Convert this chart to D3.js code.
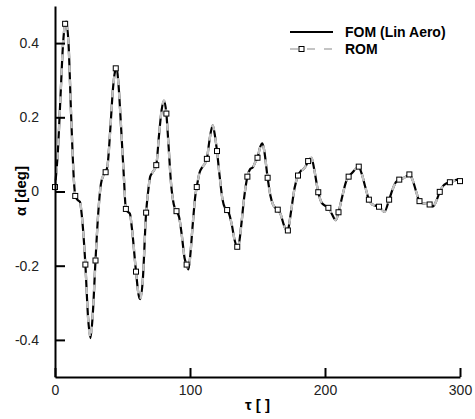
<!DOCTYPE html>
<html>
<head>
<meta charset="utf-8">
<script src="https://cdn.jsdelivr.net/npm/d3@7"></script>
<style>
    body { margin: 0; background: #fff; }
    text { font-family: "Liberation Sans", Arial, sans-serif; }
</style>
</head>
<body>
<div id="chartDiv"></div>
<script>
const chartWidth = 475;
const chartHeight = 419;
var margin = {
    left: 55,
    top: 6,
    right: 15,
    bottom: 42
}

// FOM (Lin Aero) response
var tau = [0, 2, 4, 6, 7.5, 8.2, 10, 12, 14, 15, 16.5, 18.5, 20, 22.5, 24.5, 26.3, 28, 30, 32, 34, 36, 37.5, 39, 41, 43, 45, 45.6, 47, 49, 51, 52.5, 54, 55.5, 57, 60, 62, 63, 65, 67.5, 69, 70.5, 72, 75, 77, 79, 80.7, 82.5, 84, 86, 88, 90, 92, 94, 96, 97.5, 98.8, 100, 102, 104, 105, 107, 109, 111, 112.5, 114.5, 116.8, 118.5, 120, 122, 124, 126, 127.5, 129, 131, 133, 135, 136, 138, 140, 142.5, 144.5, 146.5, 148.5, 150, 152, 153.6, 155, 157.5, 159.5, 161.5, 163.5, 165, 167, 169.5, 172, 172.5, 175, 177.5, 180, 182, 184, 186, 187.5, 190, 192, 195, 197.5, 200, 202.5, 205, 208, 210, 213, 215.5, 217.5, 220, 222.5, 225, 227, 230, 232.5, 235, 237.5, 240, 244, 247.5, 250, 252.5, 255, 257.5, 260, 262.5, 265, 267.5, 270, 272.5, 275, 277.5, 280, 282.5, 285, 287.5, 290, 292.5, 295, 298, 300];
var alphaFom = [0.012, 0.10, 0.25, 0.40, 0.452, 0.458, 0.40, 0.20, 0.03, -0.012, -0.022, -0.028, -0.07, -0.197, -0.34, -0.395, -0.33, -0.186, -0.06, 0.02, 0.045, 0.052, 0.072, 0.17, 0.28, 0.332, 0.335, 0.29, 0.17, 0.04, -0.047, -0.055, -0.06, -0.10, -0.216, -0.28, -0.29, -0.24, -0.057, 0.0, 0.04, 0.05, 0.071, 0.15, 0.22, 0.245, 0.21, 0.13, 0.02, -0.035, -0.053, -0.07, -0.12, -0.18, -0.197, -0.21, -0.18, -0.09, -0.01, 0.012, 0.05, 0.065, 0.075, 0.088, 0.14, 0.178, 0.15, 0.109, 0.04, -0.02, -0.045, -0.05, -0.06, -0.09, -0.13, -0.149, -0.145, -0.09, -0.02, 0.04, 0.06, 0.065, 0.08, 0.091, 0.12, 0.13, 0.11, 0.037, -0.01, -0.035, -0.045, -0.049, -0.06, -0.09, -0.107, -0.105, -0.05, 0.01, 0.043, 0.055, 0.06, 0.07, 0.082, 0.091, 0.06, -0.002, -0.03, -0.038, -0.044, -0.06, -0.077, -0.056, -0.01, 0.025, 0.04, 0.05, 0.06, 0.067, 0.05, 0.01, -0.022, -0.035, -0.038, -0.041, -0.055, -0.022, 0.005, 0.025, 0.032, 0.035, 0.04, 0.046, 0.03, 0.0, -0.026, -0.032, -0.033, -0.035, -0.04, -0.025, -0.001, 0.015, 0.022, 0.025, 0.028, 0.032, 0.028];

// ROM markers
var romTau = [0, 7.5, 15, 22.5, 30, 37.5, 45, 52.5, 60, 67.5, 75, 82.5, 90, 97.5, 105, 112.5, 120, 127.5, 135, 142.5, 150, 157.5, 165, 172.5, 180, 187.5, 195, 202.5, 210, 217.5, 225, 232.5, 240, 247.5, 255, 262.5, 270, 277.5, 285, 292.5, 300];
var romAlpha = [0.012, 0.452, -0.012, -0.197, -0.186, 0.052, 0.332, -0.047, -0.216, -0.057, 0.071, 0.21, -0.053, -0.197, 0.012, 0.088, 0.109, -0.05, -0.149, 0.04, 0.091, 0.037, -0.049, -0.105, 0.043, 0.082, -0.002, -0.044, -0.056, 0.04, 0.067, -0.022, -0.041, -0.022, 0.032, 0.046, -0.026, -0.035, -0.001, 0.025, 0.028];

var xTicks = [0, 100, 200, 300];
var yTicks = [-0.4, -0.2, 0, 0.2, 0.4];
var legendNames = ["FOM (Lin Aero)", "ROM"];

var svg = d3.select("#chartDiv").append("svg")
    .attr("width", chartWidth)
    .attr("height", chartHeight);

var x = d3.scaleLinear().domain([0, 300]).range([margin.left, chartWidth - margin.right]);
var y = d3.scaleLinear().domain([-0.5, 0.5]).range([chartHeight - margin.bottom, margin.top]);

var fomData = tau.map((t, i) => ({t: t, a: alphaFom[i]}));
var romData = romTau.map((t, i) => ({t: t, a: romAlpha[i]}));

var line = d3.line()
    .x(d => x(d.t))
    .y(d => y(d.a))
    .curve(d3.curveMonotoneX);

// FOM solid black
svg.append("path")
    .datum(fomData)
    .attr("d", line)
    .style("fill", "none")
    .style("stroke", "black")
    .style("stroke-width", 2.2);

// ROM grey dashed on top
svg.append("path")
    .datum(fomData)
    .attr("d", line)
    .style("fill", "none")
    .style("stroke", "#c4c4c4")
    .style("stroke-width", 2.4)
    .style("stroke-dasharray", "7,7");

svg.selectAll(".romMark")
    .data(romData)
    .enter()
    .append("rect")
    .attr("class", "romMark")
    .attr("x", d => x(d.t) - 2.5)
    .attr("y", d => y(d.a) - 2.5)
    .attr("width", 5)
    .attr("height", 5)
    .style("fill", "white")
    .style("stroke", "black")
    .style("stroke-width", 1);

// axes
var xAxis = d3.axisBottom(x).tickValues(xTicks).tickSizeInner(-9).tickSizeOuter(0).tickPadding(15).tickFormat(d3.format("d"));
var yAxis = d3.axisLeft(y).tickValues(yTicks).tickSizeInner(-10).tickSizeOuter(0).tickPadding(16).tickFormat(d => d === 0 ? "0" : d.toFixed(1));

var gx = svg.append("g")
    .attr("transform", "translate(0," + (chartHeight - margin.bottom) + ")")
    .call(xAxis);
var gy = svg.append("g")
    .attr("transform", "translate(" + margin.left + ",0)")
    .call(yAxis);

[gx, gy].forEach(g => {
    g.select(".domain").style("stroke", "black").style("stroke-width", 2);
    g.selectAll(".tick line").style("stroke", "black").style("stroke-width", 2);
    g.selectAll(".tick text")
        .style("font-family", "'Liberation Sans', Arial, sans-serif")
        .style("font-size", "14px")
        .attr("fill", "#222");
});
gx.selectAll(".tick text").attr("dy", "0.2em");

svg.append("text")
    .attr("x", (x(0) + x(300)) / 2)
    .attr("y", 410)
    .attr("text-anchor", "middle")
    .style("font-size", "15px")
    .style("font-weight", "bold")
    .text("τ [ ]");

svg.append("text")
    .attr("transform", "translate(26,191) rotate(-90)")
    .attr("text-anchor", "middle")
    .style("font-size", "15px")
    .style("font-weight", "bold")
    .text("α [deg]");

// legend
var legX = 290, legY = 32;
svg.append("line")
    .attr("x1", legX).attr("x2", legX + 43)
    .attr("y1", legY).attr("y2", legY)
    .style("stroke", "black")
    .style("stroke-width", 2);
svg.append("text")
    .attr("x", legX + 55)
    .attr("y", legY + 5)
    .style("font-size", "14px")
    .style("font-weight", "bold")
    .text(legendNames[0]);

legY += 17;
svg.append("line")
    .attr("x1", legX).attr("x2", legX + 43)
    .attr("y1", legY).attr("y2", legY)
    .style("stroke", "#c4c4c4")
    .style("stroke-width", 2)
    .style("stroke-dasharray", "8,9");
svg.append("rect")
    .attr("x", legX + 9).attr("y", legY - 2.5)
    .attr("width", 5).attr("height", 5)
    .style("fill", "white")
    .style("stroke", "black")
    .style("stroke-width", 1);
svg.append("text")
    .attr("x", legX + 55)
    .attr("y", legY + 5)
    .style("font-size", "14px")
    .style("font-weight", "bold")
    .text(legendNames[1]);
</script>
</body>
</html>
